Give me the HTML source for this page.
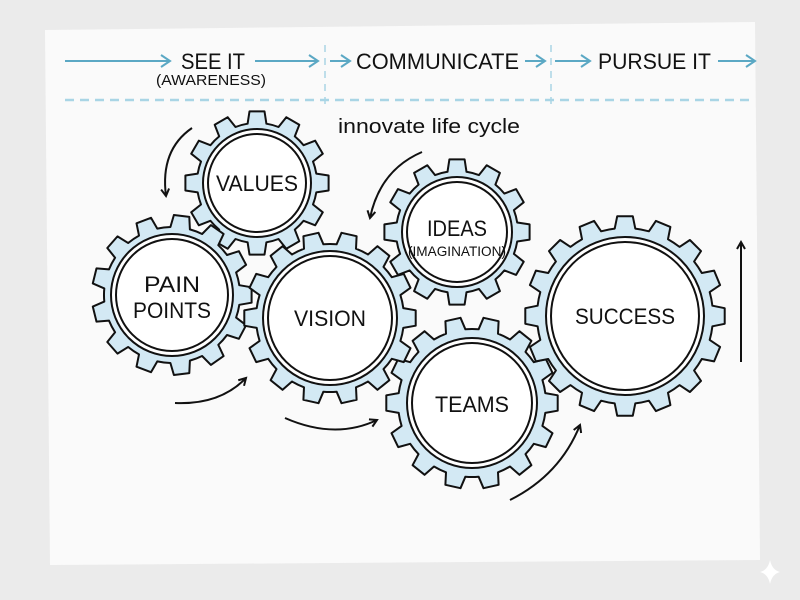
<!DOCTYPE html>
<html><head><meta charset="utf-8"><style>
html,body{margin:0;padding:0;width:800px;height:600px;overflow:hidden;background:#ebebeb}
svg{display:block}
text{font-family:"Liberation Sans",sans-serif}
</style></head><body>
<svg id="s" width="800" height="600" viewBox="0 0 800 600">
<defs>
<marker id="ah" markerWidth="10" markerHeight="10" refX="8" refY="5" orient="auto" markerUnits="userSpaceOnUse"><path d="M1,1 L8,5 L1,9" fill="none" stroke="#111" stroke-width="2"/></marker>
<marker id="th" markerWidth="14" markerHeight="14" refX="11" refY="7" orient="auto" markerUnits="userSpaceOnUse"><path d="M2,1 L11,7 L2,13" fill="none" stroke="#5ba8c4" stroke-width="2"/></marker>
</defs>
<polygon points="45,30 755,22 760,560 50,565" fill="#fafafa"/>
<g stroke="#5ba8c4" stroke-width="2" fill="none" marker-end="url(#th)">
<line x1="65" y1="61" x2="170" y2="61"/>
<line x1="255" y1="61" x2="318" y2="61"/>
<line x1="330" y1="61" x2="350" y2="61"/>
<line x1="525" y1="61" x2="545" y2="61"/>
<line x1="555" y1="61" x2="590" y2="61"/>
<line x1="718" y1="61" x2="755" y2="61"/>
</g>
<g stroke="#a9d5e5" stroke-width="2.5" fill="none" stroke-dasharray="9,6">
<line x1="65" y1="100" x2="755" y2="100"/>
</g>
<g stroke="#a9d5e5" stroke-width="1.5" fill="none" stroke-dasharray="7,6">
<line x1="325" y1="45" x2="325" y2="105"/>
<line x1="551" y1="45" x2="551" y2="105"/>
</g>
<g fill="#111" font-size="22">
<text x="181" y="69" textLength="64" lengthAdjust="spacingAndGlyphs">SEE IT</text>
<text x="356" y="69" textLength="163" lengthAdjust="spacingAndGlyphs">COMMUNICATE</text>
<text x="598" y="69" textLength="113" lengthAdjust="spacingAndGlyphs">PURSUE IT</text>
</g>
<text x="156" y="85" font-size="15" fill="#111" textLength="110" lengthAdjust="spacingAndGlyphs">(AWARENESS)</text>
<text x="338" y="133" font-size="20" fill="#111" textLength="182" lengthAdjust="spacingAndGlyphs">innovate life cycle</text>
<g id="gears"></g>
<g fill="none" stroke="#111" stroke-width="2" marker-end="url(#ah)">
<path d="M192,128 Q160,150 166,196"/>
<path d="M422,152 Q380,170 370,218"/>
<path d="M175,403 Q220,405 246,378"/>
<path d="M285,418 Q335,440 377,420"/>
<path d="M510,500 Q560,475 580,425"/>
<path d="M741,362 L741,242"/>
</g>
<g fill="#111" font-size="22" text-anchor="middle">
<text x="257" y="191" textLength="82" lengthAdjust="spacingAndGlyphs">VALUES</text>
<text x="172" y="292" textLength="56" lengthAdjust="spacingAndGlyphs">PAIN</text>
<text x="172" y="318" textLength="78" lengthAdjust="spacingAndGlyphs">POINTS</text>
<text x="330" y="326" textLength="72" lengthAdjust="spacingAndGlyphs">VISION</text>
<text x="457" y="236" textLength="60" lengthAdjust="spacingAndGlyphs">IDEAS</text>
<text x="457" y="256" font-size="14" textLength="98" lengthAdjust="spacingAndGlyphs">(IMAGINATION)</text>
<text x="472" y="412" textLength="74" lengthAdjust="spacingAndGlyphs">TEAMS</text>
<text x="625" y="324" textLength="100" lengthAdjust="spacingAndGlyphs">SUCCESS</text>
</g>
<path d="M770,560 Q772,570 780,572 Q772,574 770,584 Q768,574 760,572 Q768,570 770,560Z" fill="#fff"/>
</svg>
<script>
const g=document.getElementById('gears');
const gears=[[257,183,72,50,12],[172,295,80,57,13],[330,318,86,63,14],[457,232,73,51,12],[472,403,86,61,14],[625,316,100,75,16]];
const order=[0,1,3,4,2,5];
let h='';
for(const i of order){const [cx,cy,R,ri,n]=gears[i];const r=R-12;let d='';
for(let k=0;k<n;k++){const a=2*Math.PI*k/n,s=2*Math.PI/n;
const pts=[[r,a-s*0.3],[R,a-s*0.2],[R,a+s*0.2],[r,a+s*0.3]];
for(const [rr,aa] of pts){d+=(d?'L':'M')+(cx+rr*Math.cos(aa)).toFixed(1)+','+(cy+rr*Math.sin(aa)).toFixed(1);}
d+='A'+r+','+r+' 0 0 1 '+(cx+r*Math.cos(a+s*0.7)).toFixed(1)+','+(cy+r*Math.sin(a+s*0.7)).toFixed(1);}
d+='Z';
h+=`<path d="${d}" fill="#d3e9f4" stroke="#111" stroke-width="2" stroke-linejoin="round"/>`;
h+=`<circle cx="${cx}" cy="${cy}" r="${ri+4}" fill="#fff" stroke="#111" stroke-width="2"/>`;
h+=`<circle cx="${cx}" cy="${cy}" r="${ri-1}" fill="#fff" stroke="#111" stroke-width="2"/>`;}
g.innerHTML=h;
</script>
</body></html>
